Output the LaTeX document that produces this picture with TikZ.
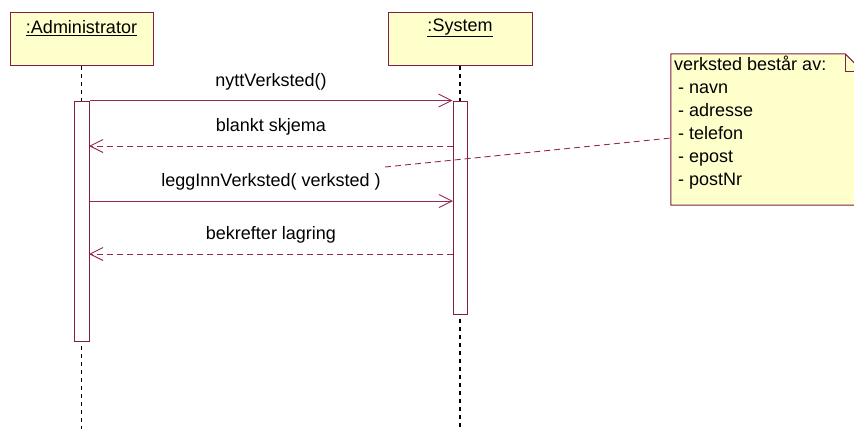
\documentclass[tikz,border=0pt]{standalone}
\usepackage{fontspec}
\setmainfont{Liberation Sans}
\usetikzlibrary{arrows.meta}
\definecolor{umlborder}{RGB}{128,32,64}
\definecolor{msgcol}{RGB}{150,40,90}
\definecolor{objfill}{RGB}{255,255,204}
\begin{document}
\begin{tikzpicture}[x=1pt,y=-1pt,
  txt/.style={font=\fontsize{18}{23}\selectfont, inner sep=0pt},
  objbox/.style={draw=umlborder, fill=objfill, line width=1pt, minimum width=143pt, minimum height=53pt, inner sep=0pt},
  actbox/.style={draw=umlborder, fill=white, line width=1pt, minimum width=15pt, inner sep=0pt},
  lifeline/.style={draw=black, line width=1.6pt, dash pattern=on 4pt off 4pt},
  call/.style={draw=msgcol, line width=0.9pt, -{Straight Barb[length=13pt,width=13pt,line width=0.9pt]}},
  reply/.style={call, dash pattern=on 6pt off 4pt},
  notelink/.style={draw=msgcol, line width=0.9pt, dash pattern=on 6pt off 4pt},
  msglabel/.style={txt, midway, anchor=base, yshift=14.5pt},
]
\useasboundingbox (0,0) rectangle (854,429);
\clip (0,0) rectangle (854,429);

% object heads
\node[objbox] (admin) at (81.5,38.5) {};
\node[txt] (adminname) at (81.5,28) {\underline{:Administrator}};
\node[objbox, minimum width=144pt] (system) at (460,38.5) {};
\node[txt] (systemname) at (460,28) {\underline{:System}};

% activation bars
\node[actbox, minimum height=240pt] (adminact) at (81.5,221) {};
\node[actbox, minimum height=213pt, minimum width=14pt] (sysact) at (460,207.5) {};

% lifelines
\coordinate (adminend) at (81.5,429);
\coordinate (sysend) at (460,429);
\draw[lifeline] (admin.south) -- (adminact.north);
\draw[lifeline] ([yshift=-4pt]adminact.south) -- (adminend);
\draw[lifeline] (system.south) -- (sysact.north);
\draw[lifeline] ([yshift=-4pt]sysact.south) -- (sysend);

% message end points
\coordinate (m2s) at (453,146);  \coordinate (m2a) at (89,146);
\coordinate (m3a) at (89,201);   \coordinate (m3s) at (453,201);
\coordinate (m4s) at (453,254);  \coordinate (m4a) at (89,254);

% messages
\draw[call] (adminact.north east) -- (sysact.north west) node[msglabel] (msg1) {nyttVerksted()};
\draw[reply] (m2s) -- (m2a) node[msglabel] (msg2) {blankt skjema};
\draw[call] (m3a) -- (m3s) node[msglabel] (msg3) {leggInnVerksted( verksted )};
\draw[reply] (m4s) -- (m4a) node[msglabel] (msg4) {bekrefter lagring};

% note with folded corner
\node[minimum width=192pt, minimum height=151pt, inner sep=0pt] (note) at (767,129.5) {};
\filldraw[draw=umlborder, fill=objfill, line width=1pt]
  (note.north west) -- ([xshift=-18pt]note.north east) -- ([yshift=-18pt]note.north east)
  -- (note.south east) -- (note.south west) -- cycle;
\draw[umlborder, line width=1pt]
  ([xshift=-18pt]note.north east) -- ([xshift=-18pt,yshift=-18pt]note.north east)
  -- ([yshift=-18pt]note.north east);
\node[txt, anchor=north west, align=left] (notetext) at (674,56)
  {verksted består av:\\ \hspace{4pt}- navn\\ \hspace{4pt}- adresse\\ \hspace{4pt}- telefon\\ \hspace{4pt}- epost\\ \hspace{4pt}- postNr};

% note attachment
\coordinate (linkstart) at (385,167);
\coordinate (noteport) at (671,138);
\draw[notelink] (linkstart) -- (noteport);
\end{tikzpicture}
\end{document}
